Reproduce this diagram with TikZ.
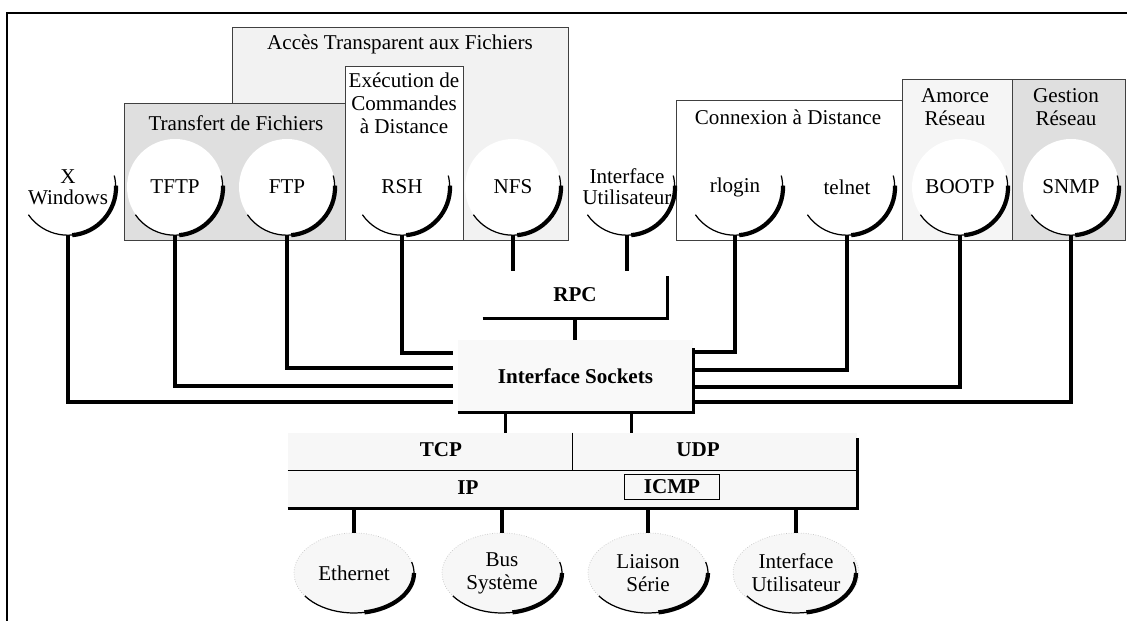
\documentclass[tikz,border=0pt]{standalone}
\usepackage{fontspec}
\setmainfont{Liberation Serif}
\usetikzlibrary{calc,positioning,shapes.geometric}

\begin{document}
\begin{tikzpicture}[
    x=0.02cm,y=-0.02cm,
    every node/.style={font=\fontsize{12}{13}\selectfont},
    zone/.style={rectangle,draw=black!75,line width=0.6pt,anchor=north west,inner sep=0pt},
    lbl/.style={align=center,inner sep=1pt},
    proto/.style={circle,fill=white,minimum size=1.92cm,inner sep=0pt,align=center,
                  font=\fontsize{12}{12}\selectfont},
    media/.style={ellipse,fill=gray!6,draw=gray!45,densely dotted,minimum width=2.4cm,
                  minimum height=1.6cm,inner sep=0pt,align=center},
    layer/.style={font=\fontsize{12}{13}\selectfont\bfseries,inner sep=1pt},
    conn/.style={line width=2pt},
    edge/.style={line width=1.7pt},
    sep/.style={line width=1.1pt},
    rim/.style={line width=0.7pt},
    shadow/.style={line width=2.4pt}
  ]
    \useasboundingbox (0,0) rectangle (1127,621);
    % cadre
    \draw[line width=1.1pt] (7,621) -- (7,13) -- (1127,13);

    % zones de services
    \node[zone,fill=gray!10,minimum width=6.72cm,minimum height=4.26cm] (acces) at (232,27) {};
    \node[zone,fill=white,minimum width=2.36cm,minimum height=3.48cm] (exec) at (345,66) {};
    \node[zone,fill=gray!25,minimum width=4.42cm,minimum height=2.74cm] (transf) at (124,103) {};
    \node[zone,fill=white,minimum width=4.52cm,minimum height=2.8cm] (connex) at (676,100) {};
    \node[zone,fill=gray!8,minimum width=2.2cm,minimum height=3.22cm] (amorce) at (902,79) {};
    \node[zone,fill=gray!25,minimum width=2.26cm,minimum height=3.22cm] (gestion) at (1012,79) {};

    \node[lbl] (accesl) at (400,44) {Accès Transparent aux Fichiers};
    \node[lbl] (execl) at (404,103) {Exécution de\\Commandes\\à Distance};
    \node[lbl] (transfl) at (236,123) {Transfert de Fichiers};
    \node[lbl] (connexl) at (788,117) {Connexion à Distance};
    \node[lbl] (amorcel) at (955,107) {Amorce\\Réseau};
    \node[lbl] (gestionl) at (1066,107) {Gestion\\Réseau};

    % applications
    \node[proto] (xw) at (68,187) {X\\Windows};
    \node[proto] (tftp) at (175,187) {TFTP};
    \node[proto] (ftp) at (287,187) {FTP};
    \node[proto] (rsh) at (402,187) {RSH};
    \node[proto] (nfs) at (513,187) {NFS};
    \node[proto] (iu) at (627,187) {Interface\\Utilisateur};
    \node[proto] (rlogin) at (735,187) {rlogin};
    \node[proto] (telnet) at (847,187) {telnet};
    \node[proto] (bootp) at (960,187) {BOOTP};
    \node[proto] (snmp) at (1071,187) {SNMP};
    \foreach \n in {xw,tftp,ftp,rsh,nfs,iu,rlogin,telnet,bootp,snmp} {
      \draw[rim] (\n.-145) arc[start angle=-145,end angle=14,radius=0.96cm];
      \draw[shadow] (\n.-85) arc[start angle=-85,end angle=2,radius=0.96cm];
    }

    % RPC et sockets
    \node[layer,minimum width=3.68cm,minimum height=0.94cm] (rpc) at (575,295) {RPC};
    \draw[edge] (rpc.south west) -- (rpc.south east) -- ([yshift=-0.1cm]rpc.north east);
    \node[layer,fill=gray!5,minimum width=4.7cm,minimum height=1.44cm] (sock) at (575.5,376) {Interface Sockets};
    \draw[edge] (sock.south west) -- (sock.south east) -- ([yshift=-0.16cm]sock.north east);

    \draw[conn] (nfs.south) -- (nfs.south |- rpc.north);
    \draw[conn] (iu.south) -- (iu.south |- rpc.north);
    \draw[conn] (rpc.south) -- (rpc.south |- sock.north);
    \draw[conn] (xw.south) |- ($(sock.west)+(-5,26)$);
    \draw[conn] (tftp.south) |- ($(sock.west)+(-5,10)$);
    \draw[conn] (ftp.south) |- ($(sock.west)+(-5,-8)$);
    \draw[conn] (rsh.south) |- ($(sock.west)+(-5,-23)$);
    \draw[conn] (rlogin.south) |- ($(sock.east)+(0,-24)$);
    \draw[conn] (telnet.south) |- ($(sock.east)+(0,-6)$);
    \draw[conn] (bootp.south) |- ($(sock.east)+(0,11)$);
    \draw[conn] (snmp.south) |- ($(sock.east)+(0,26)$);

    % TCP / UDP / IP
    \node[fill=gray!6,minimum width=11.38cm,minimum height=1.5cm,inner sep=0pt] (pile) at (572.5,470.5) {};
    \draw[sep] (pile.west) -- (pile.east);
    \draw[sep] (pile.north) -- (pile.center);
    \draw[edge] (pile.south west) -- (pile.south east) -- ([yshift=-0.1cm]pile.north east);
    \node[layer] (tcp) at (441,450) {TCP};
    \node[layer] (udp) at (698,450) {UDP};
    \node[layer] (ip) at (468,488) {IP};
    \node[layer,draw,line width=1.1pt,minimum width=1.9cm,minimum height=0.5cm] (icmp) at (672,487) {ICMP};

    \coordinate (tcpin) at ($(sock.south)+(-70,0)$);
    \coordinate (udpin) at ($(sock.south)+(56,0)$);
    \draw[conn] (tcpin) -- (tcpin |- pile.north);
    \draw[conn] (udpin) -- (udpin |- pile.north);

    % supports physiques
    \node[media] (eth) at (354,573) {Ethernet};
    \node[media] (bus) at (502,573) {Bus\\Système};
    \node[media] (serie) at (648,573) {Liaison\\Série};
    \node[media] (iumed) at (796,573) {Interface\\Utilisateur};
    \foreach \n in {eth,bus,serie,iumed} {
      \draw[conn] (\n |- pile.south) -- (\n);
      \draw[rim] ([shift={(-145:1.2cm and 0.8cm)}]\n.center) arc[start angle=-145,end angle=16,x radius=1.2cm,y radius=0.8cm];
      \draw[shadow] ([shift={(-80:1.2cm and 0.8cm)}]\n.center) arc[start angle=-80,end angle=0,x radius=1.2cm,y radius=0.8cm];
    }
  \end{tikzpicture}
\end{document}
